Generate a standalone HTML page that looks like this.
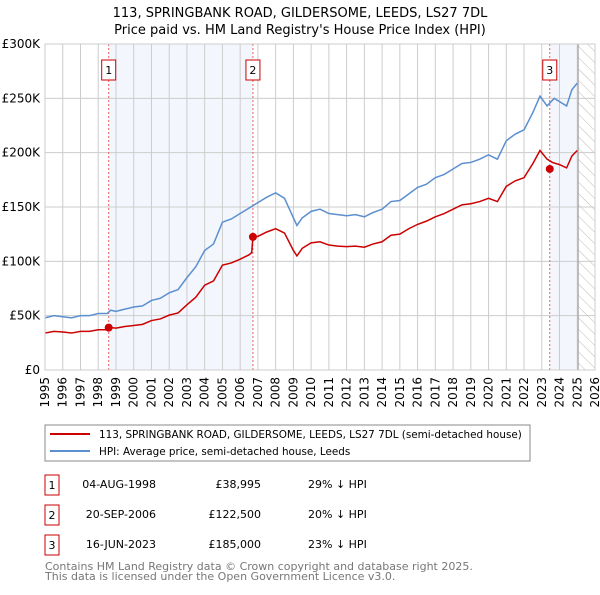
<!DOCTYPE html>
<html><head><meta charset="utf-8"><style>
body{margin:0;background:#fff;font-family:"Liberation Sans","DejaVu Sans",sans-serif}
svg text{font-family:"DejaVu Sans","Liberation Sans",sans-serif}
</style></head><body>
<svg id="c" width="600" height="590" xmlns="http://www.w3.org/2000/svg">
<defs><pattern id="hatch" width="8" height="8" patternUnits="userSpaceOnUse" patternTransform="rotate(-45)"><line x1="0" y1="0" x2="0" y2="8" stroke="#bbb" stroke-width="1"/></pattern></defs>
<text x="300" y="17" text-anchor="middle" font-size="13">113, SPRINGBANK ROAD, GILDERSOME, LEEDS, LS27 7DL</text>
<text x="300" y="34" text-anchor="middle" font-size="13">Price paid vs. HM Land Registry's House Price Index (HPI)</text>
<g id="plot"></g>
<rect x="45" y="425" width="485" height="36" fill="#fff" stroke="#888"/>
<line x1="50" y1="434" x2="90" y2="434" stroke="#cc0000" stroke-width="2"/>
<text x="99" y="438" font-size="10.4">113, SPRINGBANK ROAD, GILDERSOME, LEEDS, LS27 7DL (semi-detached house)</text>
<line x1="50" y1="451" x2="90" y2="451" stroke="#5b8fd0" stroke-width="2"/>
<text x="99" y="455" font-size="10.4">HPI: Average price, semi-detached house, Leeds</text>
<g font-size="11">
<rect x="45" y="475" width="14" height="20" fill="#fff" stroke="#cc0000"/><text x="52" y="489" text-anchor="middle">1</text>
<text x="156" y="488" text-anchor="end">04-AUG-1998</text><text x="261" y="488" text-anchor="end">£38,995</text><text x="308" y="488">29% ↓ HPI</text>
<rect x="45" y="505" width="14" height="20" fill="#fff" stroke="#cc0000"/><text x="52" y="519" text-anchor="middle">2</text>
<text x="156" y="518" text-anchor="end">20-SEP-2006</text><text x="261" y="518" text-anchor="end">£122,500</text><text x="308" y="518">20% ↓ HPI</text>
<rect x="45" y="535" width="14" height="20" fill="#fff" stroke="#cc0000"/><text x="52" y="549" text-anchor="middle">3</text>
<text x="156" y="548" text-anchor="end">16-JUN-2023</text><text x="261" y="548" text-anchor="end">£185,000</text><text x="308" y="548">23% ↓ HPI</text>
</g>
<text x="45" y="570" font-size="11" fill="#777">Contains HM Land Registry data © Crown copyright and database right 2025.</text>
<text x="45" y="580" font-size="11" fill="#777">This data is licensed under the Open Government Licence v3.0.</text>
</svg>
<script>
const hpiYears=[1995,1995.5,1996,1996.5,1997,1997.5,1998,1998.5,1998.7,1999,1999.5,2000,2000.5,2001,2001.5,2002,2002.5,2003,2003.5,2004,2004.5,2005,2005.5,2006,2006.5,2007,2007.5,2008,2008.5,2009,2009.2,2009.5,2010,2010.5,2011,2011.5,2012,2012.5,2013,2013.5,2014,2014.5,2015,2015.5,2016,2016.5,2017,2017.5,2018,2018.5,2019,2019.5,2020,2020.5,2021,2021.5,2022,2022.5,2022.9,2023.3,2023.7,2024,2024.4,2024.7,2025];
const hpiValues=[48,50,49,48,50,50,52,52,55,54,56,58,59,64,66,71,74,85,95,110,116,136,139,144,149,154,159,163,158,140,133,140,146,148,144,143,142,143,141,145,148,155,156,162,168,171,177,180,185,190,191,194,198,194,211,217,221,237,252,243,250,247,243,258,264];
const priceYears=[1995,1995.5,1996,1996.5,1997,1997.5,1998,1998.5,1998.7,1999,1999.5,2000,2000.5,2001,2001.5,2002,2002.5,2003,2003.5,2004,2004.5,2005,2005.5,2006,2006.5,2006.65,2006.72,2007,2007.5,2008,2008.5,2009,2009.2,2009.5,2010,2010.5,2011,2011.5,2012,2012.5,2013,2013.5,2014,2014.5,2015,2015.5,2016,2016.5,2017,2017.5,2018,2018.5,2019,2019.5,2020,2020.5,2021,2021.5,2022,2022.5,2022.9,2023.3,2023.6,2024,2024.4,2024.7,2025];
const priceValues=[34,35.5,35,34,35.5,35.5,37,37,39,38.5,40,41,42,45.5,47,50.5,52.5,60,67,78,82,96.5,98.5,102,106,108,122.5,123,127,130,126,110,105,112,117,118,115,114,113.5,114,113,116,118,124,125,130,134,137,141,144,148,152,153,155,158,155,169,174,177,190,202,194,191,189,186,197,202];
const saleYears=[1998.59,2006.72,2023.45];
const salePrices=[38.995,122.5,185];
const saleLabels=["1","2","3"];
const yTicks=[0,50,100,150,200,250,300];
const yTickLabels=["£0","£50K","£100K","£150K","£200K","£250K","£300K"];
const xTicks=[1995,1996,1997,1998,1999,2000,2001,2002,2003,2004,2005,2006,2007,2008,2009,2010,2011,2012,2013,2014,2015,2016,2017,2018,2019,2020,2021,2022,2023,2024,2025,2026];

const X0=45,X1=595,Y0=370,Y1=44,xmin=1995,xmax=2026,ymax=300,dataEnd=2025.05;
const xs=v=>X0+(v-xmin)/(xmax-xmin)*(X1-X0);
const ys=v=>Y0-v/ymax*(Y0-Y1);
const NS="http://www.w3.org/2000/svg";
const g=document.getElementById('plot');
function mk(t,a){const e=document.createElementNS(NS,t);for(const k in a)e.setAttribute(k,a[k]);g.appendChild(e);return e;}
let e;
e=mk('rect',{x:xs(saleYears[0]),y:Y1,width:xs(saleYears[1])-xs(saleYears[0]),height:Y0-Y1,fill:'#eef3fc',opacity:0.7});


e=mk('rect',{x:xs(saleYears[2]),y:Y1,width:xs(dataEnd)-xs(saleYears[2]),height:Y0-Y1,fill:'#eef3fc',opacity:0.7});


e=mk('rect',{x:xs(dataEnd),y:Y1,width:X1-xs(dataEnd),height:Y0-Y1,fill:'url(#hatch)'});


xTicks.forEach((t,i)=>{
  e=mk('line',{x1:xs(t),y1:Y1,x2:xs(t),y2:Y0,stroke:'#ccc','stroke-width':1});
  
  
  e=mk('text',{x:0,y:0,'font-size':12,'text-anchor':'end',transform:`translate(${xs(t)+4},${Y0+7}) rotate(-90)`});
  e.textContent=String(t);
  
  
});
yTicks.forEach((t,i)=>{
  e=mk('line',{x1:X0,y1:ys(t),x2:X1,y2:ys(t),stroke:'#ccc','stroke-width':1});
  
  
  e=mk('text',{x:40,y:ys(t)+4,'font-size':12,'text-anchor':'end'});
  e.textContent=yTickLabels[i];
  
  
});
e=mk('line',{x1:xs(dataEnd),y1:Y1,x2:xs(dataEnd),y2:Y0,stroke:'#999','stroke-width':1});


saleYears.forEach((s,i)=>{
  e=mk('line',{x1:xs(s),y1:Y1,x2:xs(s),y2:Y0,stroke:'#f06060','stroke-width':1,'stroke-dasharray':'2,2'});
  
  
});
e=mk('polyline',{points:hpiYears.map((y,i)=>xs(y)+','+ys(hpiValues[i])).join(' '),fill:'none',stroke:'#5b8fd0','stroke-width':1.5});


e=mk('polyline',{points:priceYears.map((y,i)=>xs(y)+','+ys(priceValues[i])).join(' '),fill:'none',stroke:'#cc0000','stroke-width':1.5});


saleYears.forEach((s,i)=>{
  e=mk('circle',{cx:xs(s),cy:ys(salePrices[i]),r:4,fill:'#cc0000'});
  
  
  e=mk('rect',{x:xs(s)-7,y:60,width:14,height:20,fill:'#fff',stroke:'#cc0000'});
  
  
  e=mk('text',{x:xs(s),y:74,'font-size':11,'text-anchor':'middle'});
  e.textContent=saleLabels[i];
  
  
});
e=mk('rect',{x:X0,y:Y1,width:X1-X0,height:Y0-Y1,fill:'none',stroke:'#ccc'});


</script>
</body></html>
